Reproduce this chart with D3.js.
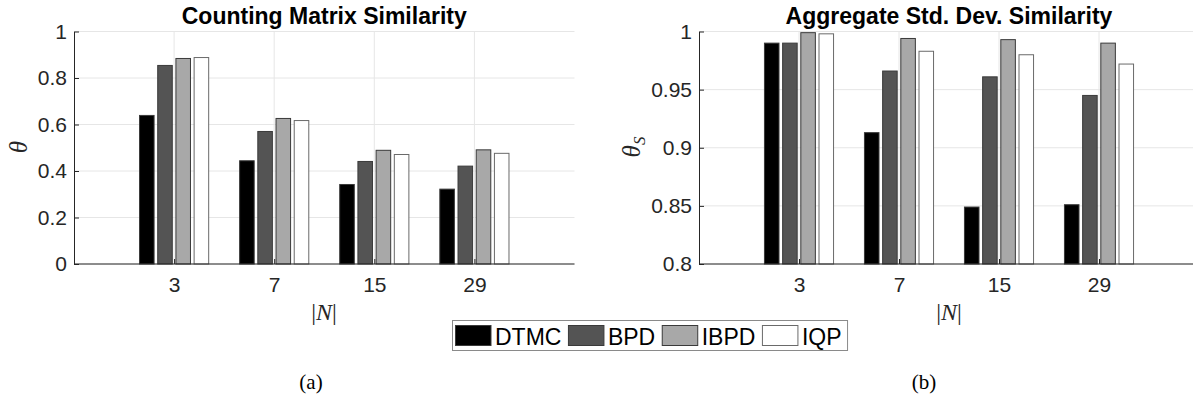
<!DOCTYPE html>
<html>
<head>
<meta charset="utf-8">
<script src="https://cdn.jsdelivr.net/npm/d3@7"></script>
<style>
  html, body { margin: 0; padding: 0; background: #fff; }
  svg { display: block; font-family: "Liberation Sans", Arial, sans-serif; }
</style>
</head>
<body>
<div id="chart"></div>
<script>
const categories = ["3", "7", "15", "29"];
const seriesNames = ["DTMC", "BPD", "IBPD", "IQP"];
const seriesColors = ["#000000", "#545454", "#a8a8a8", "#ffffff"];

// counting matrix similarity (theta), one array per series
const thetaDTMC = [0.639, 0.444, 0.342, 0.322];
const thetaBPD  = [0.854, 0.570, 0.441, 0.421];
const thetaIBPD = [0.884, 0.626, 0.489, 0.491];
const thetaIQP  = [0.888, 0.617, 0.471, 0.476];

// aggregate std. dev. similarity (theta_S)
const sdDTMC = [0.990, 0.913, 0.849, 0.851];
const sdBPD  = [0.990, 0.966, 0.961, 0.945];
const sdIBPD = [0.999, 0.994, 0.993, 0.990];
const sdIQP  = [0.998, 0.983, 0.980, 0.972];

const leftTicks = [0, 0.2, 0.4, 0.6, 0.8, 1];
const rightTicks = [0.8, 0.85, 0.9, 0.95, 1];

const W = 1193, H = 402;
const AX = "#262626";
const GRID = "#e6e6e6";

const svg = d3.select("#chart").append("svg")
  .attr("width", W).attr("height", H)
  .attr("viewBox", `0 0 ${W} ${H}`);

function panel(opts) {
  const { x0, x1, yDomain, ticks, series, title, ylab, sub, xLabCx, subCx } = opts;
  const top = 31.5, bottom = 264;
  const x = d3.scaleLinear().domain([0, categories.length + 1]).range([x0, x1]);
  const y = d3.scaleLinear().domain(yDomain).range([bottom, top]);
  const g = svg.append("g");

  // grid
  g.append("g").selectAll("line.h").data(ticks).join("line")
    .attr("x1", x0).attr("x2", x1)
    .attr("y1", d => y(d)).attr("y2", d => y(d))
    .attr("stroke", GRID).attr("stroke-width", 1);
  g.append("g").selectAll("line.v").data(categories).join("line")
    .attr("x1", (d, i) => x(i + 1)).attr("x2", (d, i) => x(i + 1))
    .attr("y1", top).attr("y2", bottom)
    .attr("stroke", GRID).attr("stroke-width", 1);

  // grouped bars, matlab-style spacing
  const n = series.length;
  const groupW = Math.min(0.8, n / (n + 1.5));
  const barW = groupW / n * 0.8;
  const unit = x(1) - x(0);
  series.forEach((vals, s) => {
    const off = (s - (n - 1) / 2) * groupW / n;
    g.append("g").selectAll("rect").data(vals).join("rect")
      .attr("x", (d, i) => x(i + 1 + off) - barW * unit / 2)
      .attr("width", barW * unit)
      .attr("y", d => y(d))
      .attr("height", d => bottom - y(d))
      .attr("fill", seriesColors[s])
      .attr("stroke", s === 3 ? "#6a6a6a" : "#3a3a3a")
      .attr("stroke-width", 1);
  });

  // axes
  const yAxis = g.append("g").attr("transform", `translate(${x0},0)`)
    .call(d3.axisLeft(y).tickValues(ticks).tickFormat(d => String(+d.toFixed(2)))
      .tickSize(-5).tickSizeOuter(0).tickPadding(7));
  const xAxis = g.append("g").attr("transform", `translate(0,${bottom})`)
    .call(d3.axisBottom(x).tickValues(d3.range(1, categories.length + 1))
      .tickFormat(d => categories[d - 1]).tickSize(-5).tickSizeOuter(0).tickPadding(13));
  [yAxis, xAxis].forEach(a => {
    a.select(".domain").attr("stroke", AX).attr("stroke-width", 1);
    a.selectAll(".tick line").attr("stroke", AX);
    a.selectAll("text").attr("fill", AX).attr("font-size", "21px")
      .attr("font-family", "Liberation Sans, Arial, sans-serif");
  });
  xAxis.select(".domain").attr("d", `M${x0},0H${x1}`);

  // title
  g.append("text")
    .attr("x", (x0 + x1) / 2).attr("y", 23.5)
    .attr("text-anchor", "middle")
    .attr("font-size", "23px").attr("font-weight", "bold")
    .attr("fill", "#000")
    .text(title);

  // y label
  const yl = g.append("text")
    .attr("transform", `translate(${opts.yLabX},147) rotate(-90)`)
    .attr("text-anchor", "middle")
    .attr("font-family", "Liberation Serif, Times New Roman, serif")
    .attr("font-style", "italic")
    .attr("font-size", "25px")
    .attr("fill", AX);
  yl.append("tspan").text("θ");
  if (ylab) yl.append("tspan").attr("font-size", "17px").attr("dy", 5).text(ylab);

  // x label
  g.append("text")
    .attr("x", xLabCx).attr("y", 320)
    .attr("text-anchor", "middle")
    .attr("font-family", "Liberation Serif, Times New Roman, serif")
    .attr("font-size", "24px")
    .attr("fill", AX)
    .call(t => {
      t.append("tspan").text("|");
      t.append("tspan").attr("font-style", "italic").text("N");
      t.append("tspan").text("|");
    });

  // sub caption
  g.append("text")
    .attr("x", subCx).attr("y", 389)
    .attr("text-anchor", "middle")
    .attr("font-family", "Liberation Serif, Times New Roman, serif")
    .attr("font-size", "21px")
    .attr("fill", "#000")
    .text(sub);
}

panel({
  x0: 74, x1: 574.5, yDomain: [0, 1], ticks: leftTicks,
  series: [thetaDTMC, thetaBPD, thetaIBPD, thetaIQP],
  title: "Counting Matrix Similarity", ylab: "", yLabX: 27,
  sub: "(a)", xLabCx: 324, subCx: 311
});

panel({
  x0: 699, x1: 1199, yDomain: [0.8, 1], ticks: rightTicks,
  series: [sdDTMC, sdBPD, sdIBPD, sdIQP],
  title: "Aggregate Std. Dev. Similarity", ylab: "S", yLabX: 640,
  sub: "(b)", xLabCx: 949, subCx: 924
});

// legend
const lg = svg.append("g");
const box = lg.append("rect")
  .attr("fill", "#fff").attr("stroke", "#8a8a8a").attr("stroke-width", 1);
let cx = 455.5;
seriesNames.forEach((name, i) => {
  lg.append("rect")
    .attr("x", cx).attr("y", 325.5).attr("width", 35.5).attr("height", 20)
    .attr("fill", seriesColors[i])
    .attr("stroke", i === 3 ? "#6a6a6a" : "#3a3a3a");
  const t = lg.append("text")
    .attr("x", cx + 39.5).attr("y", 344.5)
    .attr("font-size", "23px").attr("fill", "#000")
    .text(name);
  cx += 39.5 + t.node().getComputedTextLength() + 7;
});
box.attr("x", 452.5).attr("y", 320.5).attr("width", cx - 7 + 6 - 452.5).attr("height", 30);
</script>
</body>
</html>
